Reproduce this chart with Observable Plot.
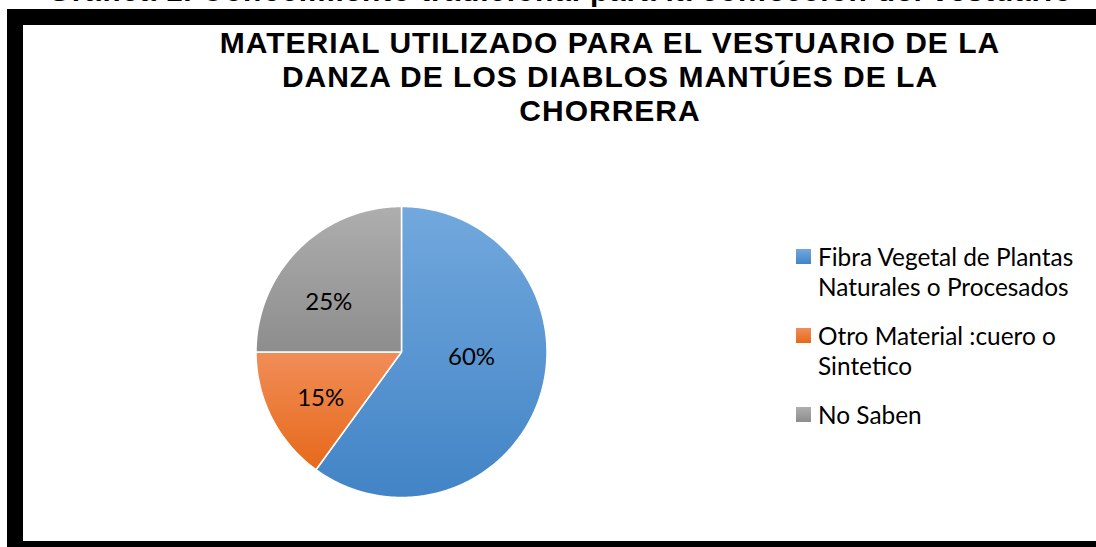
<!DOCTYPE html>
<html>
<head>
<meta charset="utf-8">
<script src="https://cdn.jsdelivr.net/npm/d3@7"></script>
<script src="https://cdn.jsdelivr.net/npm/@observablehq/plot@0.6"></script>
<style>
  html, body { margin: 0; padding: 0; background: #fff; }
  #wrap { position: relative; width: 1096px; height: 547px; overflow: hidden; background: #fff; }
  #frame { position: absolute; left: 7px; top: 9px; width: 1200px; height: 548px; border: 16px solid #000; box-sizing: border-box; background: #fff; }
  #pre { position: absolute; left: 0; top: -26px; width: 1120px; text-align: center; white-space: nowrap;
         font: bold 30px "Liberation Sans", Arial, sans-serif; line-height: 34px; letter-spacing: 0.8px; color: #000; }
  #title { position: absolute; left: 110px; top: 26px; width: 1000px; text-align: center;
           font: bold 30px "Liberation Sans", Arial, sans-serif; line-height: 34px; letter-spacing: 1px; color: #000; }
  #chart { position: absolute; left: 0; top: 0; }
  #legend { position: absolute; left: 796px; top: 242px; font-family: Lato, "Open Sans", sans-serif; font-size: 24.4px; color: #000; }
  .item { display: flex; align-items: flex-start; margin-bottom: 20px; line-height: 29.5px; }
  .sw { width: 15px; height: 15px; flex: none; margin-top: 7px; margin-right: 7px; }
  .lab { width: 275px; white-space: nowrap; }
  #defs { position: absolute; width: 0; height: 0; }
</style>
</head>
<body>
<div id="wrap">
  <div id="frame"></div>
  <div id="pre"></div>
  <div id="title"></div>
  <div id="chart"></div>
  <div id="legend"></div>
</div>
<svg id="defs" width="0" height="0" aria-hidden="true"><defs id="gdefs"></defs></svg>
<script>
// ---- data ----
const preTitle = "Gráfica 1. Conocimiento tradicional para la confección del vestuario";
const titleLines = ["MATERIAL UTILIZADO PARA EL VESTUARIO DE LA", "DANZA DE LOS DIABLOS MANTÚES DE LA", "CHORRERA"];
const categories = ["Fibra Vegetal de Plantas Naturales o Procesados", "Otro Material :cuero o Sintetico", "No Saben"];
const legendLines = [["Fibra Vegetal de Plantas", "Naturales o Procesados"], ["Otro Material :cuero o", "Sintetico"], ["No Saben"]];
const percents = [60, 15, 25];
const labels = ["60%", "15%", "25%"];
// gradient stops (top, bottom) per slice
const gradTop = ["#72A8DD", "#F18D58", "#AEAEAE"];
const gradBottom = ["#4284C6", "#E6691A", "#8D8D8D"];
// label nudges in pixels (style)
const labelNudge = [[-13, -22], [-3, 7], [-11, 12]];

// ---- gradients ----
const defs = d3.select("#gdefs");
categories.forEach((c, i) => {
  const g = defs.append("linearGradient").attr("id", "g" + i).attr("x1", 0).attr("y1", 0).attr("x2", 0).attr("y2", 1);
  g.append("stop").attr("offset", "0%").attr("stop-color", gradTop[i]);
  g.append("stop").attr("offset", "100%").attr("stop-color", gradBottom[i]);
});

// ---- texts ----
document.getElementById("pre").textContent = preTitle;
document.getElementById("title").innerHTML = titleLines.map(t => `<div>${t}</div>`).join("");

// ---- pie geometry from data ----
const total = d3.sum(percents);
let acc = 0;
const slicePts = [];
const labelData = [];
percents.forEach((v, i) => {
  const a0 = acc / total * 2 * Math.PI;
  acc += v;
  const a1 = acc / total * 2 * Math.PI;
  slicePts.push({cat: categories[i], x: 0, y: 0});
  const n = Math.max(2, Math.ceil((a1 - a0) / (Math.PI / 360)));
  for (let k = 0; k <= n; k++) {
    const a = a0 + (a1 - a0) * k / n;
    slicePts.push({cat: categories[i], x: Math.sin(a), y: Math.cos(a)});
  }
  const m = (a0 + a1) / 2;
  labelData.push({text: labels[i], x: 0.6 * Math.sin(m), y: 0.6 * Math.cos(m), dx: labelNudge[i][0], dy: labelNudge[i][1]});
});

const chart = Plot.plot({
  width: 1096,
  height: 547,
  marginLeft: 255.5,
  marginRight: 549.5,
  marginTop: 206,
  marginBottom: 50,
  style: {background: "transparent", overflow: "visible"},
  x: {axis: null, domain: [-1, 1]},
  y: {axis: null, domain: [-1, 1]},
  color: {type: "ordinal", domain: categories, range: categories.map((_, i) => `url(#g${i})`)},
  marks: [
    Plot.line(slicePts, {x: "x", y: "y", z: "cat", fill: "cat", stroke: "#fff", strokeWidth: 1.5, curve: "linear-closed", strokeLinejoin: "round"}),
    ...labelData.map(d => Plot.text([d], {x: "x", y: "y", text: "text", dx: d.dx, dy: d.dy, fontSize: 24, fontFamily: "Lato, 'Open Sans', sans-serif", fill: "#000"}))
  ]
});
document.getElementById("chart").appendChild(chart);

// ---- legend ----
const leg = d3.select("#legend");
categories.forEach((c, i) => {
  const it = leg.append("div").attr("class", "item");
  it.append("div").attr("class", "sw").style("background", `linear-gradient(${gradTop[i]}, ${gradBottom[i]})`);
  it.append("div").attr("class", "lab").html(legendLines[i].join("<br>"));
});
</script>
</body>
</html>
